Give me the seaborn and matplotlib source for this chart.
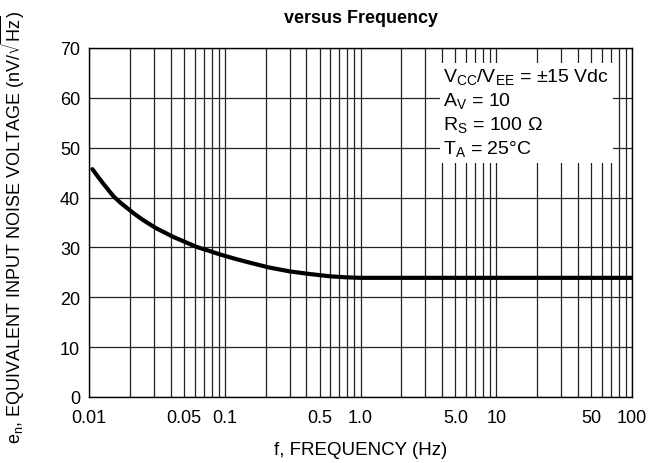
import numpy as np
import pandas as pd
import matplotlib
matplotlib.use('Agg')
import matplotlib.pyplot as plt
import matplotlib.ticker as mticker
import seaborn as sns

# datos
freq = [0.0106, 0.011, 0.012, 0.013, 0.0151, 0.017, 0.0212, 0.025, 0.031,
        0.036, 0.0418, 0.05, 0.062, 0.075, 0.092, 0.12, 0.15, 0.21, 0.3,
        0.413, 0.6, 0.79, 1.0, 3.0, 10.0, 100.0]
noise = [45.7, 45.1, 43.7, 42.5, 40.3, 39.0, 36.9, 35.5, 33.9,
         33.0, 32.1, 31.2, 30.1, 29.4, 28.6, 27.7, 27.0, 26.0, 25.2,
         24.7, 24.2, 24.0, 23.9, 23.9, 23.9, 23.9]

x_ticks = [0.01, 0.05, 0.1, 0.5, 1.0, 5.0, 10, 50, 100]
x_labels = ['0.01', '0.05', '0.1', '0.5', '1.0', '5.0', '10', '50', '100']
y_ticks = [0, 10, 20, 30, 40, 50, 60, 70]

conditions = [r'V$_\mathregular{CC}$/V$_\mathregular{EE}$ = ±15 Vdc',
              r'A$_\mathregular{V}$ = 10',
              r'R$_\mathregular{S}$ = 100 Ω',
              r'T$_\mathregular{A}$ = 25°C']

sns.set_theme(style='white')
plt.rcParams['font.family'] = ['Liberation Sans', 'DejaVu Sans']

df = pd.DataFrame({'f': freq, 'en': noise})

fig = plt.figure(figsize=(6.59, 4.64), dpi=100)
ax = fig.add_axes([89 / 659, 1 - 398 / 464, (632 - 89) / 659, (398 - 49) / 464])

sns.lineplot(data=df, x='f', y='en', ax=ax, color='black', linewidth=3.0)

ax.set_xscale('log')
ax.set_xlim(0.01, 100)
ax.set_ylim(0, 70)
ax.set_xticks(x_ticks)
ax.set_xticklabels(x_labels)
ax.xaxis.set_minor_locator(mticker.LogLocator(base=10, subs=np.arange(1, 10)))
ax.xaxis.set_minor_formatter(mticker.NullFormatter())
ax.set_yticks(y_ticks)
ax.tick_params(axis='both', which='both', length=0, labelsize=13, colors='black')
ax.tick_params(axis='x', pad=8.5)
ax.tick_params(axis='y', pad=6.5)

ax.grid(True, which='both', axis='x', color='#222222', linewidth=0.9)
ax.grid(True, which='major', axis='y', color='#222222', linewidth=0.9)
ax.set_axisbelow(True)
for s in ax.spines.values():
    s.set_color('black')
    s.set_linewidth(1.0)

ax.set_xlabel('f, FREQUENCY (Hz)', fontsize=13.5, color='black', labelpad=11)
ax.set_ylabel(r'e$_\mathregular{n}$, EQUIVALENT INPUT NOISE VOLTAGE (nV/$\sqrt{\mathregular{Hz}}$)',
              fontsize=13, color='black')
ax.yaxis.set_label_coords(-0.114, 0.49)
ax.set_title('versus Frequency', fontsize=13, fontweight='bold', color='black', pad=19)

ax.text(0.652, 0.946, '\n'.join(conditions), transform=ax.transAxes, fontsize=14,
        va='top', ha='left', color='black', linespacing=1.25,
        bbox=dict(facecolor='white', edgecolor='none', pad=2.5))

fig.savefig('out.png', dpi=100)
